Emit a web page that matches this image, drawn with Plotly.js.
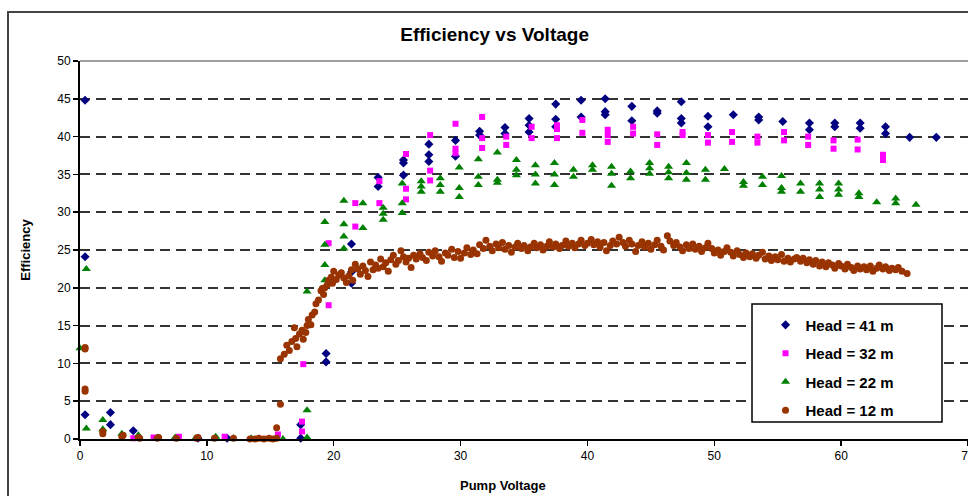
<!DOCTYPE html>
<html>
<head>
<meta charset="utf-8">
<script src="https://cdn.plot.ly/plotly-3.0.1.min.js"></script>
<style>html,body{margin:0;padding:0;background:#fff;}#chart{width:968px;height:496px;}</style>
</head>
<body>
<div id="chart"></div>
<script>
// ---- Data ----
const seriesNames = ["Head = 41 m", "Head = 32 m", "Head = 22 m", "Head = 12 m"];
const xTickVals = [0, 10, 20, 30, 40, 50, 60, 70];
const yTickVals = [0, 5, 10, 15, 20, 25, 30, 35, 40, 45, 50];

// Head = 41 m
const head41V = [0.4,0.4,0.4,2.4,2.4,4.2,9.3,11.6,17.4,17.4,19.4,19.4,21.4,21.4,21.4,23.5,23.5,25.5,25.5,25.5,27.5,27.5,27.5,29.6,29.6,31.5,31.5,33.5,33.5,35.4,35.4,35.4,37.5,37.5,37.5,39.5,39.5,41.4,41.4,41.4,43.5,43.5,45.5,45.5,47.4,47.4,47.4,49.5,49.5,51.5,53.5,53.5,55.4,57.5,57.5,59.5,59.5,61.5,61.5,63.5,63.5,65.4,67.5];
const head41E = [44.8,24.1,3.2,3.5,1.9,1.1,0.1,0.1,1.9,0.1,11.3,10.2,25.8,22.1,20.6,34.6,33.4,36.9,36.5,34.9,39.0,37.6,36.7,39.5,37.4,40.7,40.2,41.2,40.4,42.4,41.5,40.6,44.3,42.3,41.3,44.8,42.6,45.0,43.3,42.9,44.0,42.1,43.4,43.1,44.6,42.4,41.8,42.7,41.3,42.9,42.6,42.2,42.0,41.8,40.9,41.8,41.3,41.8,41.1,41.3,40.4,39.9,39.9];

// Head = 32 m
const head32V = [4.2,5.8,7.8,9.3,11.4,15.6,17.5,17.5,17.6,19.6,19.6,21.7,21.7,23.6,23.6,25.7,25.7,25.7,27.6,27.6,27.6,29.6,29.6,29.6,31.7,31.7,31.7,33.6,33.6,35.6,35.6,37.6,37.6,37.6,39.6,39.6,41.6,41.6,41.6,43.6,43.6,45.5,45.5,47.5,47.5,49.5,49.5,51.4,51.4,53.4,53.4,55.5,55.5,57.4,57.4,59.4,59.4,61.3,61.3,63.3,63.3];
const head32E = [0.1,0.2,0.3,0.1,0.3,0.6,1.0,2.3,9.9,25.9,17.7,31.2,28.1,34.1,31.2,37.7,33.1,31.7,40.2,35.5,34.2,41.7,38.4,37.8,42.6,39.8,38.5,40.0,38.9,41.3,39.8,41.5,41.0,39.8,42.2,40.5,40.9,40.2,39.3,41.3,40.4,40.3,38.9,40.6,40.2,40.2,39.2,40.6,39.3,40.0,39.2,40.6,39.5,40.0,38.9,39.5,38.4,39.6,38.3,37.6,36.9];

// Head = 22 m
const head22V = [0.0,0.5,0.5,1.8,1.8,3.3,4.6,6.1,7.5,9.1,10.7,12.1,13.5,16.0,17.9,17.9,17.9,19.3,19.3,19.3,19.3,20.8,20.8,20.8,20.8,22.3,22.3,23.9,23.9,23.9,25.4,25.4,25.4,26.9,26.9,26.9,28.4,28.4,28.4,29.9,29.9,29.9,31.4,31.4,31.4,32.9,32.9,32.9,34.4,34.4,34.4,35.9,35.9,35.9,37.4,37.4,37.4,38.9,38.9,40.4,40.4,41.9,41.9,41.9,43.4,43.4,44.9,44.9,44.9,46.4,46.4,46.4,47.8,47.8,47.8,49.3,49.3,50.8,52.3,52.3,53.8,53.8,55.3,55.3,55.3,56.8,56.8,58.3,58.3,58.3,59.8,59.8,59.8,61.4,61.4,62.8,64.3,64.3,65.9];
const head22E = [12.0,22.5,1.4,2.5,1.3,0.7,0.5,0.2,0.2,0.1,0.3,0.1,0.1,0.0,3.8,0.2,19.5,28.7,25.7,23.0,21.0,31.5,28.4,26.8,25.2,31.2,27.9,30.6,29.8,29.0,33.8,31.2,29.9,34.1,33.4,32.7,34.5,33.6,32.7,35.9,33.2,32.0,37.0,34.7,33.6,37.9,34.3,33.9,36.9,35.6,34.9,36.2,35.0,33.8,36.5,35.0,33.6,35.6,34.7,36.2,35.6,36.0,35.1,33.5,35.4,34.5,36.5,35.8,35.1,36.0,35.3,34.5,36.5,35.2,34.3,35.6,34.3,35.7,34.0,33.5,34.7,33.6,34.8,33.2,32.7,33.8,32.7,33.8,33.0,32.0,33.8,33.0,32.3,32.5,32.0,31.3,31.8,31.2,31.0];

// Head = 12 m
const head12V = [0.4,0.4,0.4,0.4,1.8,1.8,3.3,3.4,4.6,4.7,6.1,6.2,7.6,9.2,9.3,10.6,12.1,13.4,13.8,14.1,14.5,14.9,15.2,15.5,15.5,15.8,
15.8,16.1,16.3,16.5,16.7,16.9,17.0,17.1,17.3,17.5,17.6,17.8,17.9,18.0,18.2,18.3,18.5,18.6,18.8,19.0,19.1,19.2,19.3,19.5,19.6,19.8,19.9,
20.0,20.2,20.4,20.6,20.8,21.0,21.2,21.4,21.5,21.7,21.9,22.1,22.3,22.5,22.7,22.9,23.1,23.3,23.5,23.7,23.9,24.1,24.3,24.5,24.7,24.9,
25.1,25.3,25.5,25.7,25.9,26.1,26.3,26.5,26.8,27.0,27.3,27.5,27.8,28.0,28.3,28.5,28.8,29.0,29.3,29.5,29.8,
30.0,30.3,30.5,30.8,31.0,31.3,31.5,31.8,32.0,32.3,32.5,32.8,33.0,33.3,33.5,33.8,34.0,34.3,34.5,34.8,
35.0,35.3,35.5,35.8,36.0,36.3,36.5,36.8,37.0,37.3,37.5,37.8,38.0,38.3,38.5,38.8,39.0,39.3,39.5,39.8,
40.0,40.3,40.5,40.8,41.0,41.3,41.5,41.8,42.0,42.3,42.5,42.8,43.0,43.3,43.5,43.8,44.0,44.3,44.5,44.8,
45.0,45.3,45.5,45.8,46.0,46.3,46.5,46.8,47.0,47.3,47.5,47.8,48.0,48.3,48.5,48.8,49.0,49.3,49.5,49.8,
50.0,50.3,50.5,50.8,51.0,51.3,51.5,51.8,52.0,52.3,52.5,52.8,53.0,53.3,53.5,53.8,54.0,54.3,54.5,54.8,
55.0,55.3,55.5,55.8,56.0,56.3,56.5,56.8,57.0,57.3,57.5,57.8,58.0,58.3,58.5,58.8,59.0,59.3,59.5,59.8,
60.0,60.3,60.5,60.8,61.0,61.3,61.5,61.8,62.0,62.3,62.5,62.8,63.0,63.3,63.5,63.8,64.0,64.3,64.5,64.8,65.2];
const head12E = [12.1,11.9,6.6,6.3,1.0,0.7,0.3,0.5,0.2,0.1,0.1,0.2,0.1,0.1,0.2,0.1,0.1,0.0,0.0,0.1,0.0,0.1,0.0,0.1,1.5,4.6,
10.6,11.2,12.4,11.7,12.9,14.7,13.3,12.2,13.9,14.4,13.2,14.1,15.0,15.8,15.1,16.4,16.8,17.9,18.4,19.6,19.9,19.1,20.0,20.4,21.0,21.4,20.6,
22.2,21.1,21.7,22.0,21.3,20.7,21.6,22.4,21.0,23.1,22.5,21.8,22.9,22.3,21.5,23.4,22.4,23.0,22.6,23.8,22.8,23.3,22.2,23.7,24.3,23.1,
23.6,24.9,24.1,23.4,23.9,22.7,24.3,23.8,24.5,24.0,23.6,24.7,24.2,24.9,24.1,23.5,24.6,24.3,25.1,24.0,24.8,
23.9,24.6,25.3,24.4,25.0,24.5,25.7,25.2,26.3,25.5,24.9,25.8,25.3,26.0,25.1,25.6,24.7,25.4,25.9,25.2,
25.6,24.9,25.4,25.9,25.3,25.7,25.0,25.5,26.1,25.4,25.8,25.2,25.6,26.2,25.5,25.9,25.3,25.8,26.3,25.6,
25.9,26.4,25.7,26.1,25.4,26.0,24.9,25.6,26.2,25.8,26.7,26.0,25.5,26.3,25.8,24.8,25.6,26.1,25.4,25.9,
25.1,25.7,26.3,25.5,25.0,26.9,26.2,25.6,26.0,25.4,24.9,25.7,25.2,25.8,25.1,25.5,24.8,25.3,25.9,25.2,
24.6,25.0,24.3,24.8,25.3,24.7,24.2,24.9,24.4,24.0,24.6,24.1,24.5,23.9,24.3,24.7,23.8,24.2,23.6,24.1,
23.7,24.4,23.5,23.9,23.4,23.8,24.0,23.5,23.9,23.3,23.7,23.1,23.6,22.9,23.4,22.8,23.3,23.0,22.6,23.2,
22.9,22.5,23.1,22.7,22.3,22.9,22.5,22.8,22.4,22.9,22.2,22.6,23.0,22.5,22.8,22.3,22.6,22.4,22.7,22.2,21.9];

// ---- Styles ----
const FONT = '"Liberation Sans", Arial, sans-serif';
const traces = [
  {x: head41V, y: head41E, name: '<b>' + seriesNames[0] + '</b>', marker: {symbol: 'diamond', size: 7, color: '#000080'}},
  {x: head32V, y: head32E, name: '<b>' + seriesNames[1] + '</b>', marker: {symbol: 'square', size: 6, color: '#FF00FF'}},
  {x: head22V, y: head22E, name: '<b>' + seriesNames[2] + '</b>', marker: {symbol: 'triangle-up', size: 8, color: '#008000'}},
  {x: head12V, y: head12E, name: '<b>' + seriesNames[3] + '</b>', marker: {symbol: 'circle', size: 7, color: '#993300'}}
].map((t, i) => Object.assign({type: 'scatter', mode: 'markers', cliponaxis: false, legendgroup: 'g' + i}, t));

const layout = {
  width: 968, height: 496,
  margin: {l: 80, r: 0, t: 61, b: 57, pad: 0},
  paper_bgcolor: '#ffffff', plot_bgcolor: '#ffffff',
  font: {family: FONT, size: 12, color: '#000'},
  title: {text: '<b>Efficiency vs Voltage</b>', font: {family: FONT, size: 19, color: '#000'},
          xref: 'container', yref: 'container', x: 0.511, y: 0.93, xanchor: 'center', yanchor: 'middle'},
  xaxis: {range: [0, 70], tickvals: xTickVals, showgrid: false, zeroline: false, ticklabeloverflow: 'allow',
          showline: true, linecolor: '#000', linewidth: 2, ticks: 'outside', ticklen: 5, tickwidth: 1.5, tickcolor: '#000',
          tickfont: {family: FONT, size: 12, color: '#000'}, fixedrange: true},
  yaxis: {range: [0, 50], tickvals: yTickVals, showgrid: true, gridcolor: '#333', gridwidth: 2, griddash: '10px,6px',
          zeroline: false, showline: true, linecolor: '#000', linewidth: 2, ticks: 'outside', ticklen: 5, tickwidth: 1.5,
          tickcolor: '#000', tickfont: {family: FONT, size: 12, color: '#000'},
          title: {text: '<b>Efficiency</b>', font: {family: FONT, size: 13, color: '#000'}, standoff: 24}, fixedrange: true},
  showlegend: true,
  legend: {x: 0.772, y: 0.345, xanchor: 'left', yanchor: 'top', bgcolor: 'rgba(0,0,0,0)', borderwidth: 0,
           font: {family: FONT, size: 15, color: '#000'}, traceorder: 'grouped', tracegroupgap: 6, itemsizing: 'trace'},
  annotations: [
    {text: '<b>Pump Voltage</b>', xref: 'paper', yref: 'paper', x: (503 - 80) / 888, y: (439 - 485) / 378,
     xanchor: 'center', yanchor: 'middle', showarrow: false, font: {family: FONT, size: 13, color: '#000'}}
  ],
  shapes: [
    {type: 'line', xref: 'paper', yref: 'paper', x0: 0, x1: 1, y0: 1, y1: 1, line: {color: '#a0a0a0', width: 2}, layer: 'above'},
    {type: 'rect', xref: 'paper', yref: 'paper', x0: (752 - 80) / 888, x1: (942 - 80) / 888,
     y0: (439 - 422) / 378, y1: (439 - 304) / 378, line: {color: '#000', width: 1.5}, fillcolor: '#fff', layer: 'above'},
    {type: 'rect', xref: 'paper', yref: 'paper', x0: (8 - 80) / 888, x1: 1.2, y0: -0.5, y1: (439 - 12) / 378,
     line: {color: '#444', width: 2}, fillcolor: 'rgba(0,0,0,0)', layer: 'above'}
  ]
};

Plotly.newPlot('chart', traces, layout, {displayModeBar: false, staticPlot: true});
</script>
</body>
</html>
